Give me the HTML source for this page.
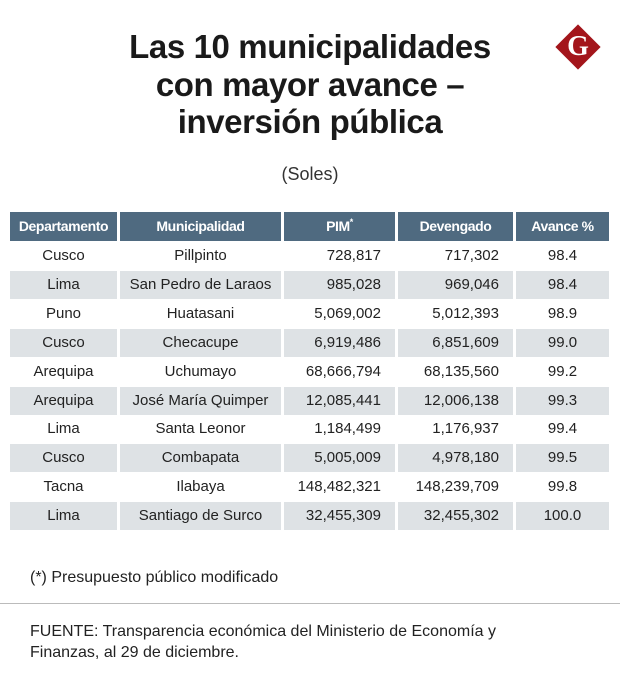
<!DOCTYPE html>
<html><head><meta charset="utf-8"><style>
body{margin:0;background:#fff;}
#root{position:relative;width:620px;height:689px;overflow:hidden;font-family:"Liberation Sans",sans-serif;color:#222;}
.t{position:absolute;left:0;width:620px;text-align:center;font-weight:bold;font-size:33px;color:#1a1a1a;letter-spacing:-0.4px;}
.c{position:absolute;height:28px;line-height:28px;font-size:15px;color:#222;box-sizing:border-box;}
.h{background:#4f6a80;color:#fff;font-weight:bold;font-size:14px;text-align:center;letter-spacing:-0.4px;}
sup{line-height:0;font-size:9px;vertical-align:6px;}
</style></head><body>
<div id="root">
<div class="t" style="top:28px">Las 10 municipalidades</div>
<div class="t" style="top:66px">con mayor avance –</div>
<div class="t" style="top:103px">inversión pública</div>
<div style="position:absolute;top:164px;left:0;width:620px;text-align:center;font-size:18px;color:#333">(Soles)</div>
<div style="position:absolute;left:562px;top:31px;width:32px;height:32px;background:#a3151b;transform:rotate(45deg)"></div>
<div style="position:absolute;left:562px;top:31px;width:32px;height:32px;line-height:32px;text-align:center;color:#fff;font-family:'Liberation Serif',serif;font-weight:bold;font-size:28px">G</div>
<div id="tbl"></div>
<div style="position:absolute;left:30px;top:569px;font-size:16px;color:#222">(*) Presupuesto público modificado</div>
<div style="position:absolute;left:0;top:603px;width:620px;height:1px;background:#bbb"></div>
<div style="position:absolute;left:30px;top:621px;font-size:16px;line-height:21px;color:#222;width:510px">FUENTE: Transparencia económica del Ministerio de Economía y Finanzas, al 29 de diciembre.</div>
</div>
<script>
const headers=["Departamento","Municipalidad","PIM<sup>*</sup>","Devengado","Avance %"];
const departamentos=["Cusco","Lima","Puno","Cusco","Arequipa","Arequipa","Lima","Cusco","Tacna","Lima"];
const municipalidades=["Pillpinto","San Pedro de Laraos","Huatasani","Checacupe","Uchumayo","José María Quimper","Santa Leonor","Combapata","Ilabaya","Santiago de Surco"];
const pim=["728,817","985,028","5,069,002","6,919,486","68,666,794","12,085,441","1,184,499","5,005,009","148,482,321","32,455,309"];
const devengado=["717,302","969,046","5,012,393","6,851,609","68,135,560","12,006,138","1,176,937","4,978,180","148,239,709","32,455,302"];
const avance=["98.4","98.4","98.9","99.0","99.2","99.3","99.4","99.5","99.8","100.0"];
const colL=[10,120,284,398,516], colW=[107,161,111,115,93];
const align=["center","center","right","right","center"];
const names=["departamento","municipalidad","pim","devengado","avance"];
const tbl=document.getElementById('tbl');
headers.forEach((h,j)=>{
  const d=document.createElement('div');
  d.className='c h';
  
  
  d.style.cssText+=`left:${colL[j]}px;top:212px;width:${colW[j]}px;height:29px;line-height:29px;`;
  d.innerHTML=h;tbl.appendChild(d);
});
const cols=[departamentos,municipalidades,pim,devengado,avance];
for(let i=0;i<departamentos.length;i++){
  const top=242+i*28.9;
  for(let j=0;j<5;j++){
    const d=document.createElement('div');
    d.className='c';
    
    
    const pad=align[j]==='right'?'padding-right:14px;':'';
    d.style.cssText+=`left:${colL[j]}px;top:${top}px;width:${colW[j]}px;text-align:${align[j]};${pad}`+(i%2===1?'background:#dee2e5;':'');
    d.textContent=cols[j][i];tbl.appendChild(d);
  }
}
</script>
</body></html>
